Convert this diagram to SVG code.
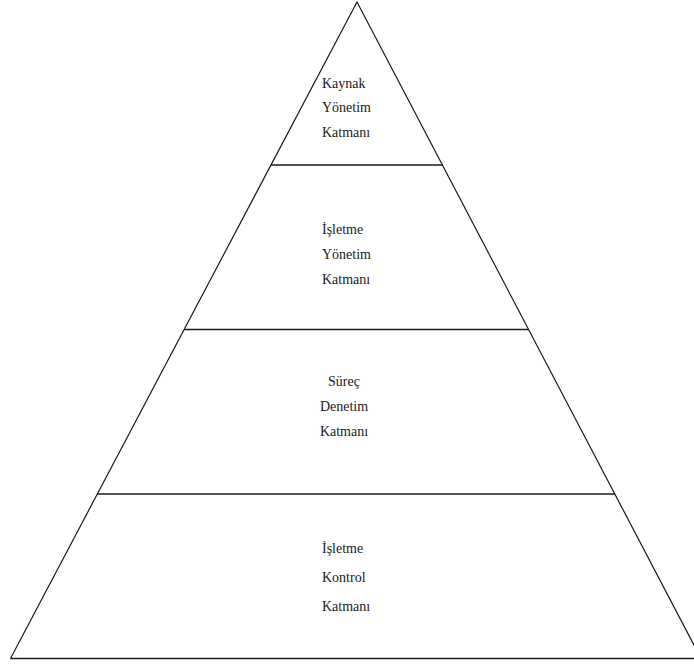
<svg xmlns="http://www.w3.org/2000/svg" width="694" height="664" viewBox="0 0 694 664">
  <style>
    .edge { fill: none; stroke: #1a1a1a; stroke-width: 1.2; }
    .divider { stroke: #1a1a1a; stroke-width: 1.6; }
    .label { font-family: "Liberation Serif", "Times New Roman", serif; font-size: 14px; fill: #1a1a1a; }
  </style>
  <rect width="694" height="664" fill="#ffffff"/>
  <!-- pyramid outline and layer dividers -->
  <g id="connectors">
    <path class="edge" d="M 10.5 658.5 L 357 2 L 701 658.5"/>
    <line class="divider" x1="10.5" y1="658.5" x2="694" y2="658.5"/>
    <line class="divider" x1="97" y1="494" x2="615" y2="494"/>
    <line class="divider" x1="184" y1="329.5" x2="529" y2="329.5"/>
    <line class="divider" x1="271" y1="165" x2="443" y2="165"/>
  </g>
  <g id="layer-resource">
    <text class="label" x="322" y="88">Kaynak</text>
    <text class="label" x="322" y="112">Yönetim</text>
    <text class="label" x="322" y="137">Katmanı</text>
  </g>
  <g id="layer-enterprise">
    <text class="label" x="322" y="234">İşletme</text>
    <text class="label" x="322" y="259">Yönetim</text>
    <text class="label" x="322" y="284">Katmanı</text>
  </g>
  <g id="layer-process">
    <text class="label" x="344" y="386" text-anchor="middle">Süreç</text>
    <text class="label" x="344" y="411" text-anchor="middle">Denetim</text>
    <text class="label" x="344" y="436" text-anchor="middle">Katmanı</text>
  </g>
  <g id="layer-control">
    <text class="label" x="322" y="553">İşletme</text>
    <text class="label" x="322" y="582">Kontrol</text>
    <text class="label" x="322" y="611">Katmanı</text>
  </g>
</svg>
